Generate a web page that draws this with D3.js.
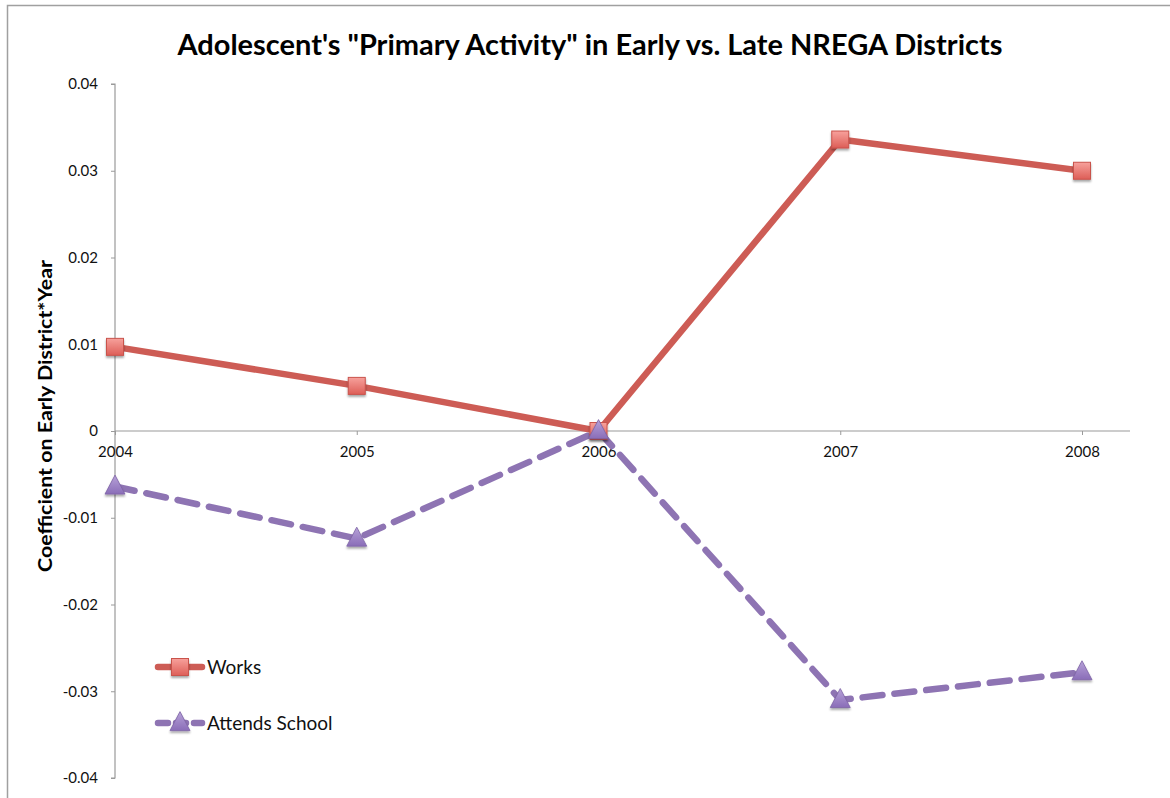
<!DOCTYPE html>
<html><head><meta charset="utf-8">
<script src="https://cdn.jsdelivr.net/npm/d3@7"></script>
<style>body{margin:0;background:#fff;} svg{display:block;}</style>
</head><body>
<svg id="c" width="1170" height="798"></svg>
<script>
const years = [2004, 2005, 2006, 2007, 2008];
const works = [0.0097, 0.0052, 0.0, 0.0336, 0.0300];
const attends = [-0.0064, -0.0124, 0.0, -0.0310, -0.0278];
const yTicks = [0.04, 0.03, 0.02, 0.01, 0, -0.01, -0.02, -0.03, -0.04];
const seriesNames = ["Works", "Attends School"];
const title = "Adolescent's \"Primary Activity\" in Early vs. Late NREGA Districts";
const yTitle = "Coefficient on Early District*Year";

const font = "Lato, 'Open Sans', sans-serif";
const svg = d3.select("#c");
svg.append("rect").attr("x", 7.5).attr("y", 5.5).attr("width", 1170).attr("height", 800)
  .attr("fill", "#fff").attr("stroke", "#a0a0a0").attr("stroke-width", 1.5);

const x = d3.scaleLinear().domain([2004, 2008]).range([115, 1082]);
const y = d3.scaleLinear().domain([-0.04, 0.04]).range([778, 84]);

const defs = svg.append("defs");
const gSq = defs.append("linearGradient").attr("id", "gsq").attr("x1", 0).attr("y1", 0).attr("x2", 0).attr("y2", 1);
gSq.append("stop").attr("offset", "0%").attr("stop-color", "#f7a19c");
gSq.append("stop").attr("offset", "100%").attr("stop-color", "#dd5e57");
const gTr = defs.append("linearGradient").attr("id", "gtr").attr("x1", 0).attr("y1", 0).attr("x2", 0).attr("y2", 1);
gTr.append("stop").attr("offset", "0%").attr("stop-color", "#b7a2d8");
gTr.append("stop").attr("offset", "100%").attr("stop-color", "#8a6db8");
const sh = defs.append("filter").attr("id", "sh").attr("x", "-50%").attr("y", "-50%").attr("width", "200%").attr("height", "200%");
sh.append("feDropShadow").attr("dx", 0).attr("dy", 2).attr("stdDeviation", 1.2).attr("flood-color", "#000").attr("flood-opacity", 0.35);

const fmt = d => d === 0 ? "0" : d3.format(".2f")(d).replace("\u2212", "-");

// y axis
const yAxis = d3.axisLeft(y).tickValues(yTicks).tickSize(4).tickPadding(13).tickFormat(fmt);
const ya = svg.append("g").attr("transform", "translate(115,0)").call(yAxis);
ya.select(".domain").attr("stroke", "#9a9a9a").attr("stroke-width", 1.2).attr("d", `M-4,${y(0.04)}H0V${y(-0.04)}H-4`);
ya.selectAll(".tick line").attr("stroke", "#9a9a9a");
ya.selectAll("text").attr("font-family", font).attr("font-size", 15).attr("fill", "#111");

// x axis at 0
const xAxis = d3.axisBottom(x).tickValues(years).tickSize(4).tickPadding(11).tickFormat(d3.format("d"));
const xa = svg.append("g").attr("transform", `translate(0,${y(0)})`).call(xAxis);
xa.select(".domain").attr("stroke", "#9a9a9a").attr("stroke-width", 1.2).attr("d", `M115,0H1130`);
xa.selectAll(".tick line").attr("stroke", "#9a9a9a");
xa.selectAll("text").attr("font-family", font).attr("font-size", 15).attr("fill", "#111");

const line = d3.line().x((d, i) => x(years[i])).y(d => y(d));

svg.append("path").datum(works).attr("d", line).attr("fill", "none")
  .attr("stroke", "#cd5c55").attr("stroke-width", 6.5).attr("stroke-linejoin", "round");
svg.append("path").datum(attends).attr("d", line).attr("fill", "none")
  .attr("stroke", "#8e74b3").attr("stroke-width", 6.5).attr("stroke-dasharray", "20,12").attr("stroke-linecap", "round");

const sqSize = 17;
function square(g, cx, cy) {
  g.append("rect").attr("x", cx - sqSize / 2).attr("y", cy - sqSize / 2).attr("width", sqSize).attr("height", sqSize)
    .attr("fill", "url(#gsq)").attr("stroke", "#c9534c").attr("stroke-width", 1).attr("filter", "url(#sh)");
}
function tri(g, cx, cy) {
  const h = 19, w = 20;
  g.append("path").attr("d", `M${cx},${cy - h * 0.6}L${cx + w / 2},${cy + h * 0.4}L${cx - w / 2},${cy + h * 0.4}Z`)
    .attr("fill", "url(#gtr)").attr("stroke", "#7d63a6").attr("stroke-width", 0.8).attr("filter", "url(#sh)");
}
const mk = svg.append("g");
works.forEach((v, i) => square(mk, x(years[i]), y(v)));
attends.forEach((v, i) => tri(mk, x(years[i]), y(v)));

// title
svg.append("text").attr("x", 590).attr("y", 55).attr("text-anchor", "middle")
  .attr("font-family", font).attr("font-weight", "bold").attr("font-size", 29).attr("fill", "#000")
  .attr("textLength", 825).attr("lengthAdjust", "spacingAndGlyphs").text(title);
svg.append("text").attr("transform", "translate(52,416) rotate(-90)").attr("text-anchor", "middle")
  .attr("font-family", font).attr("font-weight", "bold").attr("font-size", 19).attr("fill", "#000")
  .attr("textLength", 312).attr("lengthAdjust", "spacingAndGlyphs").text(yTitle);

// legend
const lg = svg.append("g");
const legY = [667, 723];
lg.append("line").attr("x1", 158).attr("x2", 202).attr("y1", legY[0]).attr("y2", legY[0])
  .attr("stroke", "#cd5c55").attr("stroke-width", 6.5).attr("stroke-linecap", "round");
square(lg, 180, legY[0]);
lg.append("line").attr("x1", 158).attr("x2", 202).attr("y1", legY[1]).attr("y2", legY[1])
  .attr("stroke", "#8e74b3").attr("stroke-width", 6.5).attr("stroke-dasharray", "10,8").attr("stroke-linecap", "round");
tri(lg, 180, legY[1]);
seriesNames.forEach((n, i) => {
  lg.append("text").attr("x", 207).attr("y", legY[i] + 7).attr("font-family", font).attr("font-size", 19)
    .attr("fill", "#111").text(n);
});
</script>
</body></html>
